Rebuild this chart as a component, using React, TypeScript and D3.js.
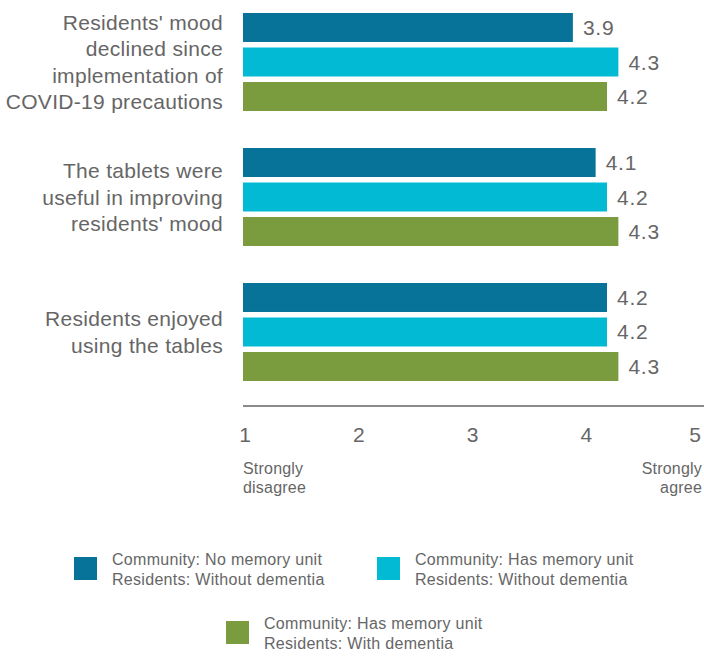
import React from "react";
import * as d3 from "d3";

const categories: string[][] = [
  ["Residents' mood", "declined since", "implementation of", "COVID-19 precautions"],
  ["The tablets were", "useful in improving", "residents' mood"],
  ["Residents enjoyed", "using the tables"],
];
const seriesNames = ["noMemoryWithout", "hasMemoryWithout", "hasMemoryWith"];
const noMemoryWithout = [3.9, 4.1, 4.2];
const hasMemoryWithout = [4.3, 4.2, 4.2];
const hasMemoryWith = [4.2, 4.3, 4.3];
const tickValues = [1, 2, 3, 4, 5];
const legendLabels: string[][] = [
  ["Community: No memory unit", "Residents: Without dementia"],
  ["Community: Has memory unit", "Residents: Without dementia"],
  ["Community: Has memory unit", "Residents: With dementia"],
];
const colors = ["#077399", "#03bad4", "#7a9b3e"];

const W = 704;
const H = 656;
const FONT = "'Liberation Sans', Arial, sans-serif";
const TEXT = "#666666";

export default function App() {
  const series = [noMemoryWithout, hasMemoryWithout, hasMemoryWith];
  const x = d3.scaleLinear().domain([1, 5]).range([243, 698]);
  const y0 = d3
    .scaleBand<number>()
    .domain(d3.range(categories.length))
    .range([13, 381])
    .paddingInner(0.274)
    .paddingOuter(0);
  const y1 = d3
    .scaleBand<string>()
    .domain(seriesNames)
    .range([0, y0.bandwidth()])
    .paddingInner(0.16)
    .paddingOuter(0);
  const lh = 26.5;
  const axisY = 406;

  const legendPos = [
    { x: 74, y: 557 },
    { x: 377, y: 557 },
    { x: 226, y: 621 },
  ];

  return (
    <svg
      width={W}
      height={H}
      style={{ position: "absolute", left: 0, top: 0, background: "#fff" }}
      fontFamily={FONT}
    >
      {categories.map((lines, gi) => {
        const gy = y0(gi)!;
        const center = gy + y0.bandwidth() / 2;
        const first = center - ((lines.length - 1) / 2) * lh + 7.5;
        return (
          <g key={gi}>
            {lines.map((ln, li) => (
              <text
                key={li}
                x={223}
                y={first + li * lh}
                textAnchor="end"
                fontSize={21}
                fill={TEXT}
                letterSpacing={0.3}
              >
                {ln}
              </text>
            ))}
            {series.map((vals, si) => {
              const by = gy + y1(seriesNames[si])!;
              const v = vals[gi];
              return (
                <g key={si}>
                  <rect
                    x={x(1)}
                    y={by}
                    width={x(v) - x(1)}
                    height={y1.bandwidth()}
                    fill={colors[si]}
                  />
                  <text
                    x={x(v) + 10}
                    y={by + y1.bandwidth() / 2 + 7.5}
                    fontSize={21}
                    fill={TEXT}
                    letterSpacing={0.8}
                  >
                    {v.toFixed(1)}
                  </text>
                </g>
              );
            })}
          </g>
        );
      })}

      <line x1={x(1)} x2={W} y1={axisY} y2={axisY} stroke="#8a8a8a" strokeWidth={2} />
      {tickValues.map((t) => (
        <text
          key={t}
          x={Math.min(x(t) + 2, W - 9)}
          y={442}
          textAnchor="middle"
          fontSize={21}
          fill={TEXT}
        >
          {t}
        </text>
      ))}
      <text x={x(1)} y={474} fontSize={16} fill={TEXT} letterSpacing={0.2}>
        Strongly
      </text>
      <text x={x(1)} y={493} fontSize={16} fill={TEXT} letterSpacing={0.2}>
        disagree
      </text>
      <text x={702} y={474} fontSize={16} fill={TEXT} textAnchor="end" letterSpacing={0.2}>
        Strongly
      </text>
      <text x={702} y={493} fontSize={16} fill={TEXT} textAnchor="end" letterSpacing={0.2}>
        agree
      </text>

      {legendLabels.map((lines, i) => (
        <g key={i} transform={`translate(${legendPos[i].x},${legendPos[i].y})`}>
          <rect x={0} y={0} width={23} height={23} fill={colors[i]} />
          {lines.map((ln, li) => (
            <text key={li} x={38} y={8 + li * 20} fontSize={16} fill={TEXT} letterSpacing={0.3}>
              {ln}
            </text>
          ))}
        </g>
      ))}
    </svg>
  );
}
